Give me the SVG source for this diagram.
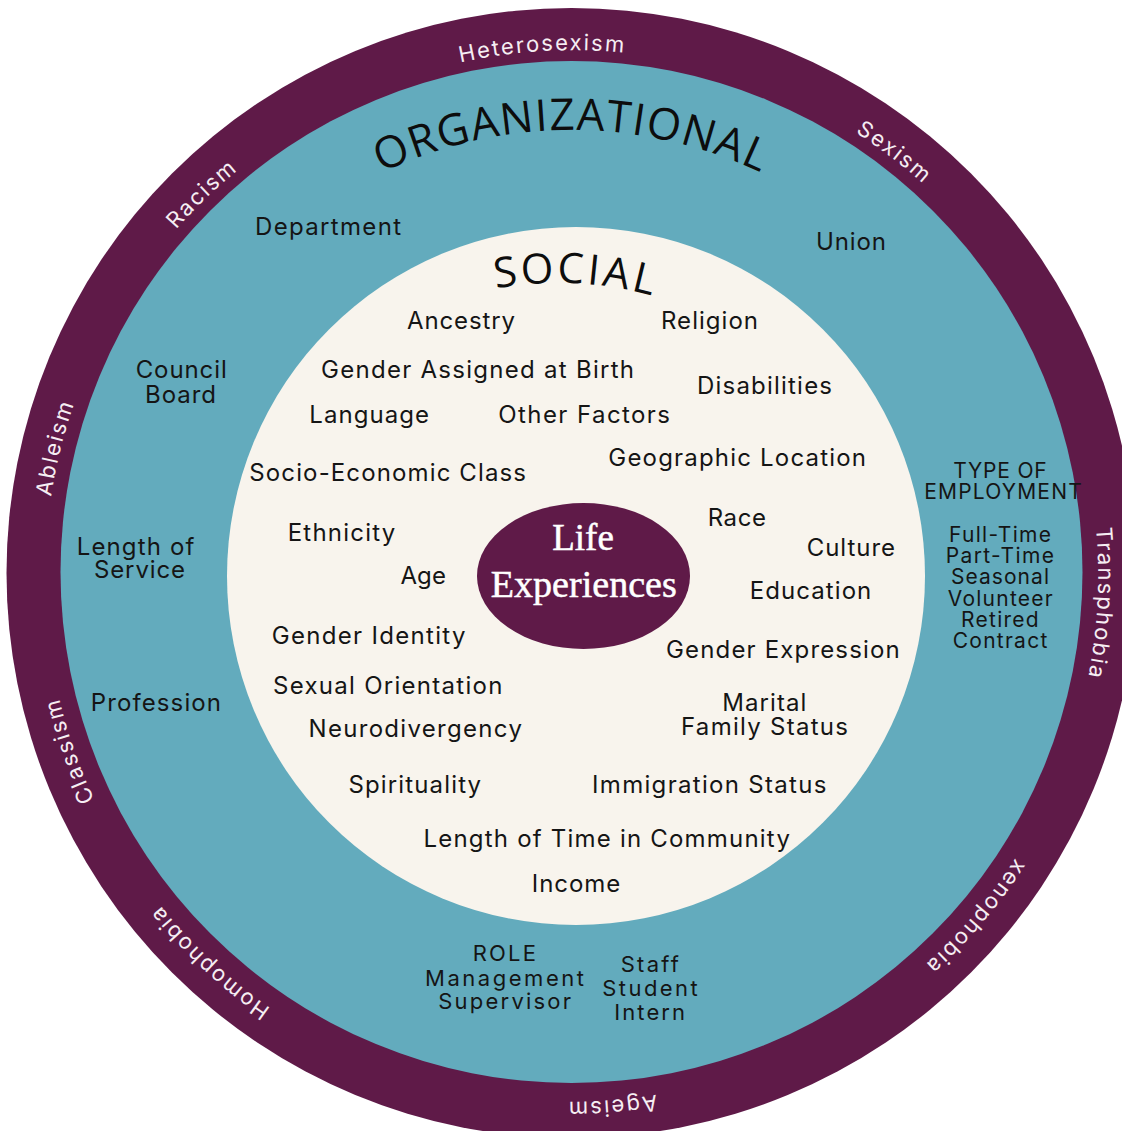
<svg xmlns="http://www.w3.org/2000/svg" width="1122" height="1131" viewBox="0 0 1122 1131">
<style>
.t{font-family:Inter,"Liberation Sans",sans-serif;font-size:24px;fill:#151515}
.s{font-size:21px}
.m{font-size:22px}
.ring{font-family:Inter,"Liberation Sans",sans-serif;font-size:22px;fill:#f6eef3;letter-spacing:2px}
.big{font-family:"Open Sans","Liberation Sans",sans-serif;fill:#0d0d0d}
.life{font-family:"Liberation Serif",serif;font-size:37px;fill:#ffffff;stroke:#ffffff;stroke-width:0.5}
</style>
<defs>
<path id="ringPath" d="M 793.37 1051.81 A 525 525 0 1 1 349.63 100.19 A 525 525 0 1 1 793.37 1051.81"/>
<path id="orgPath" d="M 287.4 233.4 A 442 442 0 0 1 855.6 233.4"/>
<path id="socPath" d="M 480 291.8 Q 575 270.2 670 300.9"/>
</defs>
<rect width="1122" height="1131" fill="#ffffff"/>
<g id="outer-ring">
<circle cx="571.5" cy="573" r="565" fill="#5f1a48"/>
</g>
<g id="organizational-ring">
<circle cx="571.5" cy="572" r="511" fill="#63abbd"/>
</g>
<g id="social-circle">
<circle cx="576" cy="576" r="349" fill="#f8f4ed"/>
</g>
<g id="life-experiences">
<ellipse cx="583.5" cy="576" rx="106.5" ry="73" fill="#5f1a48"/>
<text class="life" x="583" y="550" text-anchor="middle">Life</text>
<text class="life" x="583.8" y="596.7" text-anchor="middle" textLength="186" lengthAdjust="spacingAndGlyphs">Experiences</text>
</g>
<g id="ring-labels" class="ring">
<text><textPath href="#ringPath" startOffset="5.72%" text-anchor="middle">Ageism</textPath></text>
<text><textPath href="#ringPath" startOffset="18.92%" text-anchor="middle">Homophobia</textPath></text>
<text><textPath href="#ringPath" startOffset="26.61%" text-anchor="middle">Classism</textPath></text>
<text><textPath href="#ringPath" startOffset="35.83%" text-anchor="middle">Ableism</textPath></text>
<text><textPath href="#ringPath" startOffset="44.72%" text-anchor="middle">Racism</textPath></text>
<text><textPath href="#ringPath" startOffset="56.06%" text-anchor="middle">Heterosexism</textPath></text>
<text><textPath href="#ringPath" startOffset="67.3%" text-anchor="middle">Sexism</textPath></text>
<text><textPath href="#ringPath" startOffset="82.78%" text-anchor="middle">Transphobia</textPath></text>
<text><textPath href="#ringPath" startOffset="93.1%" text-anchor="middle">xenophobia</textPath></text>
</g>
<g id="organizational-title">
<text class="big" font-size="44" letter-spacing="1.3"><textPath href="#orgPath" startOffset="50%" text-anchor="middle">ORGANIZATIONAL</textPath></text>
</g>
<g id="social-title">
<text class="big" font-size="42" letter-spacing="3"><textPath href="#socPath" startOffset="50%" text-anchor="middle">SOCIAL</textPath></text>
</g>
<g id="organizational-factors" class="t">
<text x="255" y="235" textLength="146">Department</text>
<text x="816" y="250" textLength="70">Union</text>
<text x="135.7" y="378.3" textLength="91">Council</text>
<text x="145" y="402.7" textLength="71">Board</text>
<text x="76.7" y="555" textLength="117.6">Length of</text>
<text x="94" y="578.3" textLength="91">Service</text>
<text x="90.7" y="711" textLength="130.3">Profession</text>
</g>
<g id="type-of-employment" class="t s">
<text x="953.3" y="478.3" textLength="93.4">TYPE OF</text>
<text x="924.3" y="499.3" textLength="157.4">EMPLOYMENT</text>
<text x="949" y="542.3" textLength="102">Full-Time</text>
<text x="945.7" y="563.3" textLength="108.3">Part-Time</text>
<text x="951" y="584.3" textLength="98">Seasonal</text>
<text x="947.7" y="605.7" textLength="105">Volunteer</text>
<text x="961" y="626.7" textLength="77.7">Retired</text>
<text x="952.7" y="648.3" textLength="94.6">Contract</text>
</g>
<g id="role" class="t m">
<text x="472.7" y="961" textLength="63.3">ROLE</text>
<text x="425" y="986" textLength="159">Management</text>
<text x="438.3" y="1009.3" textLength="132.7">Supervisor</text>
<text x="620.7" y="971.7" textLength="58.3">Staff</text>
<text x="602.3" y="995.7" textLength="95.4">Student</text>
<text x="614.3" y="1020" textLength="70.7">Intern</text>
</g>
<g id="social-factors" class="t">
<text x="407" y="329.3" textLength="108">Ancestry</text>
<text x="661" y="329.3" textLength="97">Religion</text>
<text x="321" y="378.3" textLength="313">Gender Assigned at Birth</text>
<text x="697" y="394" textLength="135">Disabilities</text>
<text x="309.3" y="423.3" textLength="119.7">Language</text>
<text x="498.3" y="423.3" textLength="171.7">Other Factors</text>
<text x="608.3" y="466" textLength="257.7">Geographic Location</text>
<text x="249.3" y="480.7" textLength="276.7">Socio-Economic Class</text>
<text x="287.7" y="540.7" textLength="107.5">Ethnicity</text>
<text x="707.7" y="526" textLength="58.3">Race</text>
<text x="806.7" y="555.7" textLength="88.3">Culture</text>
<text x="400.4" y="584" textLength="45.6">Age</text>
<text x="749.8" y="599.3" textLength="121.5">Education</text>
<text x="271.7" y="644" textLength="193.8">Gender Identity</text>
<text x="666" y="657.5" textLength="233.7">Gender Expression</text>
<text x="273" y="694" textLength="229.4">Sexual Orientation</text>
<text x="722.2" y="711" textLength="84.1">Marital</text>
<text x="681" y="735" textLength="167">Family Status</text>
<text x="308.5" y="737.3" textLength="213.4">Neurodivergency</text>
<text x="348.4" y="793.3" textLength="132.7">Spirituality</text>
<text x="592.1" y="793.3" textLength="234.2">Immigration Status</text>
<text x="423.4" y="846.7" textLength="366.5">Length of Time in Community</text>
<text x="531.8" y="892.3" textLength="88.5">Income</text>
</g>
</svg>
